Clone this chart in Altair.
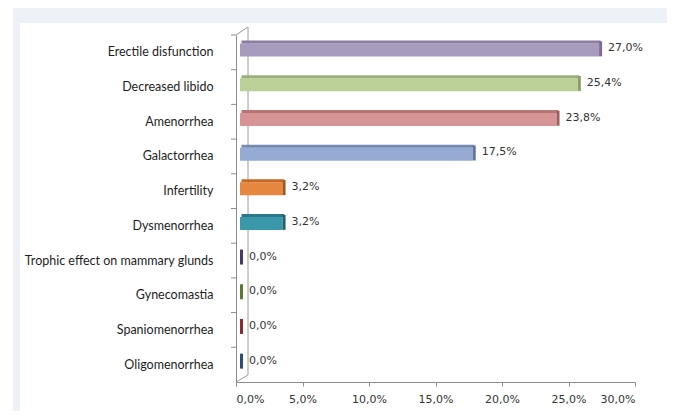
import altair as alt
import pandas as pd

categories = ["Erectile disfunction", "Decreased libido", "Amenorrhea", "Galactorrhea",
              "Infertility", "Dysmenorrhea", "Trophic effect on mammary glunds",
              "Gynecomastia", "Spaniomenorrhea", "Oligomenorrhea"]
values = [27.0, 25.4, 23.8, 17.5, 3.2, 3.2, 0.0, 0.0, 0.0, 0.0]
tick_values = [0, 5, 10, 15, 20, 25, 30]

front_colors = ["#A99BBD", "#BBD097", "#D69594", "#95ABD4", "#E5873E", "#3B98AA",
                "#4F3B72", "#607A31", "#8C2E2E", "#2C4D7A"]
top_colors = ["#8A7D9F", "#9BB077", "#B67473", "#7489B2", "#C46A25", "#2B7888",
              "#3E2C5E", "#4D6425", "#722222", "#213D63"]
side_colors = ["#7B6C90", "#8A9F64", "#A05F5E", "#62779F", "#A5561A", "#1F6370",
               "#4A3670", "#5C7A2E", "#8A2C2C", "#2A4C7A"]

df = pd.DataFrame({
    "cat": categories,
    "val": values,
    "zero": [0.0] * len(values),
    "label": [f"{v:.1f}".replace(".", ",") + "%" for v in values],
})
one = pd.DataFrame({"a": [0]})

W, H = 399, 347
AX = "#8c8c8c"

yscale = alt.Scale(paddingInner=0, paddingOuter=0)
xscale = alt.Scale(domain=[0, 30], nice=False)

yaxis = alt.Axis(title=None, ticks=False, tickSize=0, domain=True, domainColor=AX,
                 labelFont="Lato", labelFontSize=12.5, labelColor="#1e1e1e",
                 labelPadding=23, labelLimit=400, zindex=1)
xaxis = alt.Axis(title=None, values=tick_values, grid=False, domainColor=AX,
                 tickColor=AX, tickSize=4, labelPadding=7,
                 labelFont="DejaVu Sans", labelFontSize=11, labelColor="#333333",
                 labelExpr="replace(format(datum.value, '.1f'), '.', ',') + '%'",
                 zindex=1)


def col(rng):
    return alt.Color("cat:N", scale=alt.Scale(domain=categories, range=rng), legend=None)


def Y():
    return alt.Y("cat:N", sort=categories, scale=yscale, axis=yaxis)


def X():
    return alt.X("val:Q", scale=xscale, axis=xaxis)


bg_gray = alt.Chart(one).mark_rect(color="#EEF0F8").encode(
    x=alt.value(-223), x2=alt.value(431), y=alt.value(-27), y2=alt.value(376))
bg_white = alt.Chart(one).mark_rect(color="#FFFFFF").encode(
    x=alt.value(-216), x2=alt.value(431), y=alt.value(-12), y2=alt.value(376))

wall_top = alt.Chart(one).mark_rule(color="#9c9c9c").encode(
    x=alt.value(0), x2=alt.value(12), y=alt.value(0), y2=alt.value(-8))
wall_back = alt.Chart(one).mark_rule(color="#9c9c9c").encode(
    x=alt.value(12), x2=alt.value(12), y=alt.value(-8), y2=alt.value(340))
wall_bot = alt.Chart(one).mark_rule(color="#9c9c9c").encode(
    x=alt.value(0), x2=alt.value(12), y=alt.value(H), y2=alt.value(340))

base = alt.Chart(df)

front = base.mark_bar(size=13, xOffset=4, x2Offset=4, yOffset=-2.3, y2Offset=-2.3).encode(
    y=Y(), x=X(), x2=alt.X2("zero"), color=col(front_colors),
)

top = base.mark_bar(size=3, xOffset=5.5, x2Offset=5.5, yOffset=-10.3, y2Offset=-10.3).encode(
    y=Y(), x=X(), x2=alt.X2("zero"), color=col(top_colors),
)

side = base.mark_bar(size=15, xOffset=7, x2Offset=4, yOffset=-3.5, y2Offset=-3.5).encode(
    y=Y(), x=X(), x2=alt.X2("val"), color=col(side_colors),
)

labels = base.mark_text(align="left", baseline="middle", dx=13, yOffset=-4,
                        font="DejaVu Sans", fontSize=11, color="#333333").encode(
    y=Y(), x=X(), text="label:N",
)

yticks = base.mark_rule(color=AX, yOffset=-H / 20).encode(
    y=Y(), x=alt.value(-5), x2=alt.value(0),
)

chart = alt.layer(
    bg_gray, bg_white, wall_top, wall_back, wall_bot, front, top, side, labels, yticks
).resolve_scale(color="independent").properties(
    width=W, height=H,
    autosize=alt.AutoSizeParams(type="none"),
    padding={"left": 228, "top": 27, "right": 32, "bottom": 29},
    background="#FFFFFF",
).configure_view(stroke=None)

chart.save("out.html", embed_options={"renderer": "svg", "actions": False})
